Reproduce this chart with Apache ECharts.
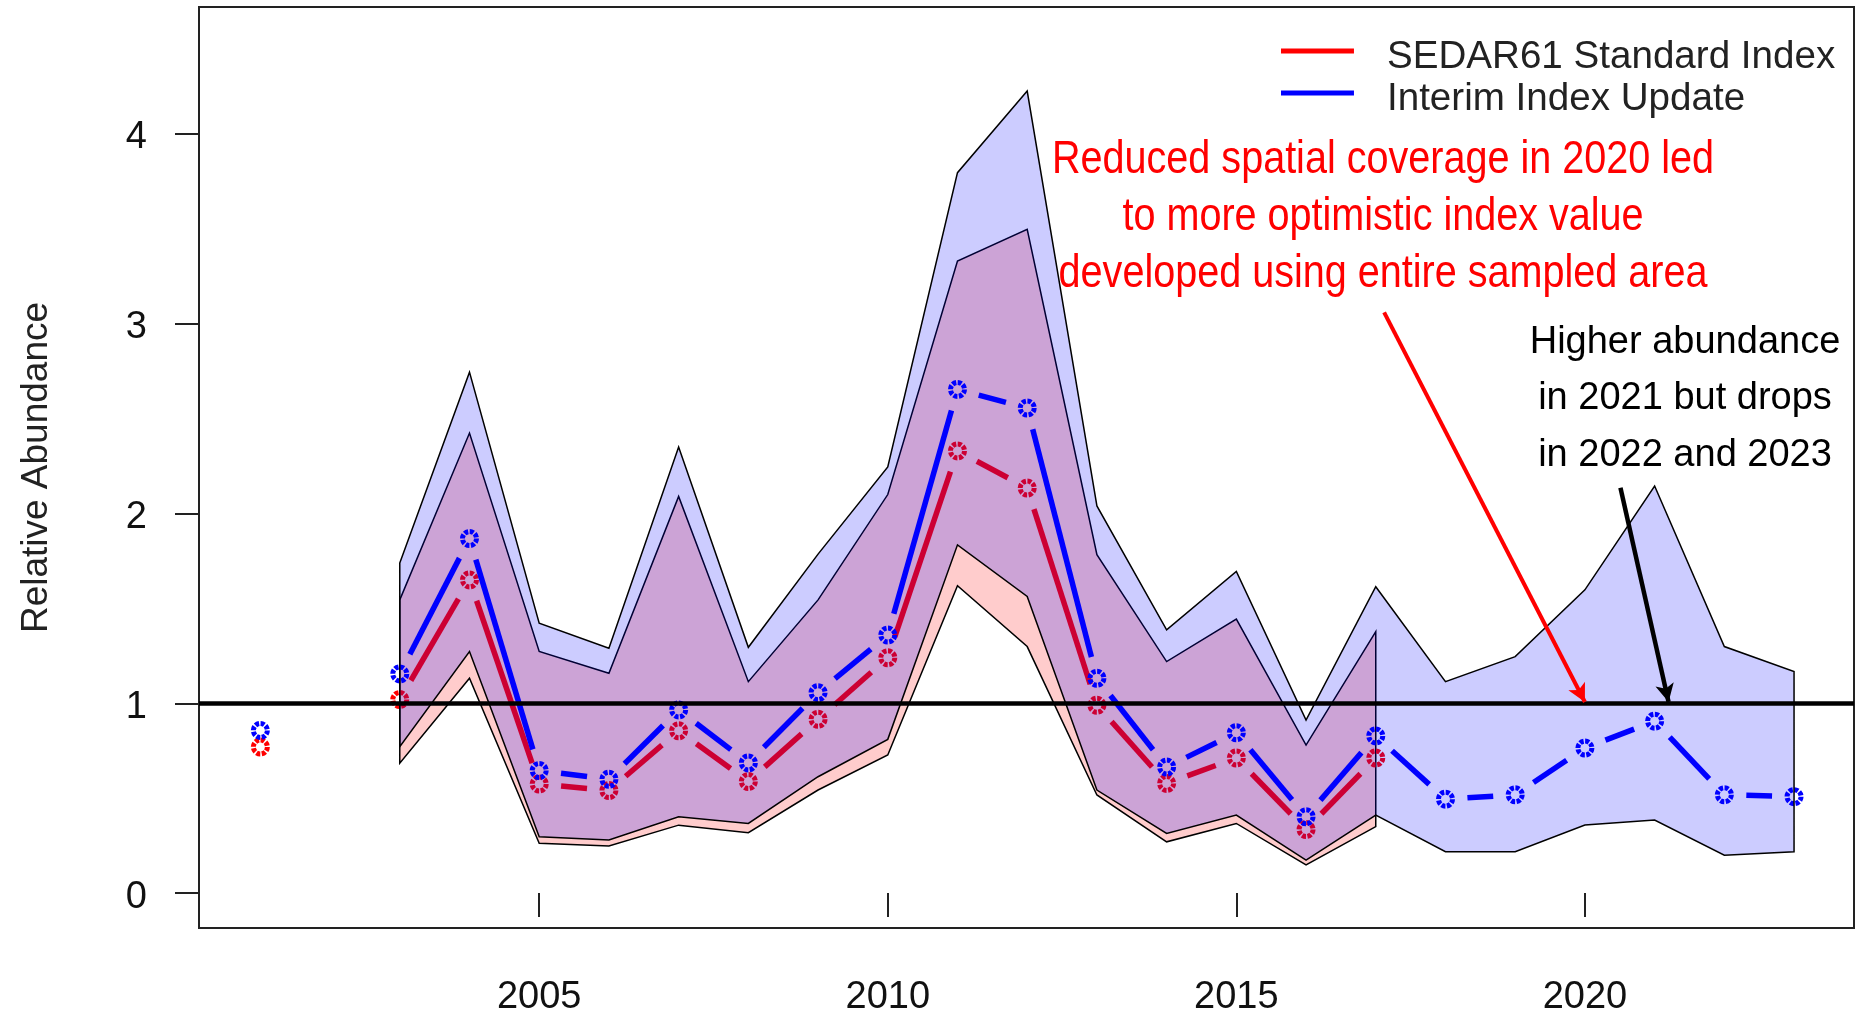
<!DOCTYPE html>
<html>
<head>
<meta charset="utf-8">
<script src="https://cdn.jsdelivr.net/npm/echarts@6/dist/echarts.min.js"></script>
<style>
html,body{margin:0;padding:0;background:#fff;}
#c{width:1866px;height:1013px;}
</style>
</head>
<body>
<div id="c"></div>
<script>
// ---- data ----
const years = [2001,2002,2003,2004,2005,2006,2007,2008,2009,2010,2011,2012,2013,2014,2015,2016,2017,2018,2019,2020,2021,2022,2023];
const sedarIndex   = [0.77,null,1.02,1.65,0.575,0.54,0.855,0.588,0.916,1.24,2.33,2.134,0.99,0.578,0.712,0.335,0.712,null,null,null,null,null,null];
const interimIndex = [0.857,null,1.155,1.868,0.646,0.60,0.965,0.686,1.056,1.36,2.654,2.556,1.132,0.664,0.845,0.402,0.828,0.495,0.518,0.764,0.906,0.518,0.508];

const interimCiYears = [2003,2004,2005,2006,2007,2008,2009,2010,2011,2012,2013,2014,2015,2016,2017,2018,2019,2020,2021,2022,2023];
const interimUpper = [1.739,2.745,1.422,1.29,2.35,1.295,1.786,2.245,3.796,4.226,2.04,1.387,1.695,0.912,1.614,1.114,1.246,1.598,2.145,1.299,1.167];
const interimLower = [0.771,1.273,0.297,0.28,0.402,0.367,0.613,0.81,1.835,1.563,0.543,0.314,0.411,0.174,0.411,0.218,0.218,0.359,0.385,0.20,0.218];

const sedarCiYears = [2003,2004,2005,2006,2007,2008,2009,2010,2011,2012,2013,2014,2015,2016,2017];
const sedarUpper = [1.545,2.424,1.273,1.158,2.09,1.114,1.545,2.10,3.33,3.497,1.783,1.22,1.444,0.78,1.378];
const sedarLower = [0.684,1.132,0.262,0.248,0.358,0.318,0.543,0.728,1.62,1.299,0.517,0.27,0.367,0.148,0.35];

const xTicks = [2005,2010,2015,2020];
const yTicks = [0,1,2,3,4];

const seriesNames = ['SEDAR61 Standard Index','Interim Index Update'];
const redNote = ['Reduced spatial coverage in 2020 led','to more optimistic index value','developed using entire sampled area'];
const blackNote = ['Higher abundance','in 2021 but drops','in 2022 and 2023'];
const redArrow = [[2017.12,3.06],[2020.0,1.007]];
const blackArrow = [[2020.51,2.136],[2021.2,1.007]];

// ---- helpers ----
function bandSeries(name, xs, up, lo, fill, z) {
  return {
    type: 'custom', name: name, z: z, silent: true, animation: false,
    data: xs.map((x, i) => [x, up[i], lo[i]]),
    encode: { x: 0, y: [1, 2] },
    renderItem: function (params, api) {
      if (params.dataIndex !== 0) return null;
      const pts = [];
      for (let i = 0; i < xs.length; i++) pts.push(api.coord([xs[i], up[i]]));
      for (let i = xs.length - 1; i >= 0; i--) pts.push(api.coord([xs[i], lo[i]]));
      return { type: 'polygon', shape: { points: pts }, style: { fill: fill, stroke: '#000', lineWidth: 1.5 } };
    }
  };
}

function indexSeries(name, vals, color, z) {
  const pts = years.map((y, i) => [y, vals[i]]).filter(p => p[1] != null);
  return {
    type: 'custom', name: name, z: z, silent: true, animation: false,
    data: pts,
    encode: { x: 0, y: 1 },
    renderItem: function (params, api) {
      const i = params.dataIndex;
      const p = pts[i];
      const c = api.coord(p);
      const children = [{
        type: 'circle', shape: { cx: c[0], cy: c[1], r: 7 },
        style: { fill: 'none', stroke: color, lineWidth: 5, lineDash: [4, 1.5] }
      }];
      const q = pts[i + 1];
      if (q && q[0] === p[0] + 1) {
        const d = api.coord(q);
        const dx = d[0] - c[0], dy = d[1] - c[1], L = Math.hypot(dx, dy);
        const g = 22;
        if (L > 2 * g) {
          children.push({
            type: 'line',
            shape: { x1: c[0] + dx * g / L, y1: c[1] + dy * g / L, x2: d[0] - dx * g / L, y2: d[1] - dy * g / L },
            style: { stroke: color, lineWidth: 5.5 }
          });
        }
      }
      return { type: 'group', children: children };
    }
  };
}

const FONT = '"Liberation Sans", Arial, sans-serif';
// legend icon: a 5px bar at the top of a taller (invisible) box, so the text sits a little lower
const LEGEND_ICON = 'path://M0 0H73V5H0Z M0 17H0.01V17.01H0Z';

const chart = echarts.init(document.getElementById('c'), null, { renderer: 'canvas' });
chart.setOption({
  animation: false,
  backgroundColor: '#fff',
  grid: { left: 199, right: 12, top: 7, bottom: 85, show: true, borderColor: '#222', borderWidth: 2,
    backgroundColor: 'transparent', containLabel: false, outerBoundsMode: 'none' },
  xAxis: {
    type: 'value', min: 2000.12, max: 2023.86,
    axisLine: { show: false },
    splitLine: { show: false },
    axisTick: { show: true, length: 24, lineStyle: { color: '#222', width: 2 }, customValues: xTicks },
    axisLabel: { show: true, margin: 51, fontSize: 38, fontFamily: FONT, color: '#111', customValues: xTicks,
      formatter: function (v) { return String(v); } }
  },
  yAxis: {
    type: 'value', min: -0.184, max: 4.669,
    name: 'Relative Abundance', nameLocation: 'middle', nameGap: 144,
    nameTextStyle: { fontSize: 37, fontFamily: FONT, color: '#222' },
    axisLine: { show: false },
    splitLine: { show: false },
    axisTick: { show: true, length: 24, lineStyle: { color: '#222', width: 2 }, customValues: yTicks },
    axisLabel: { show: true, margin: 52, fontSize: 38, fontFamily: FONT, color: '#111', customValues: yTicks,
      verticalAlign: 'top', lineHeight: 8,
      formatter: function (v) { return String(v); } }
  },
  legend: {
    orient: 'vertical', left: 1281, top: 36, padding: 0,
    itemWidth: 73, itemHeight: 17, itemGap: 0,
    selectedMode: false,
    data: [
      { name: seriesNames[0], icon: LEGEND_ICON, itemStyle: { color: '#ff0000', borderWidth: 0 } },
      { name: seriesNames[1], icon: LEGEND_ICON, itemStyle: { color: '#0000ff', borderWidth: 0 } }
    ],
    textStyle: { fontSize: 38.6, fontFamily: FONT, color: '#222', lineHeight: 42, padding: [0, 0, 0, 28] }
  },
  graphic: [
    {
      type: 'text', z: 100, x: 1383, y: 217.5, scaleX: 0.86,
      style: {
        text: redNote.join('\n'), x: 0, y: 0,
        textAlign: 'center', textVerticalAlign: 'middle', align: 'center', verticalAlign: 'middle',
        fill: '#ff0000', font: '46px "Liberation Sans", Arial, sans-serif', lineHeight: 57
      }
    },
    {
      type: 'text', z: 100, x: 1685, y: 399,
      style: {
        text: blackNote.join('\n'), x: 0, y: 0,
        textAlign: 'center', textVerticalAlign: 'middle', align: 'center', verticalAlign: 'middle',
        fill: '#000', font: '38px "Liberation Sans", Arial, sans-serif', lineHeight: 56.7
      }
    }
  ],
  series: [
    bandSeries('sedarBand', sedarCiYears, sedarUpper, sedarLower, 'rgba(255,0,0,0.2)', 1),
    indexSeries(seriesNames[0], sedarIndex, '#ff0000', 2),
    indexSeries(seriesNames[1], interimIndex, '#0000ff', 3),
    bandSeries('interimBand', interimCiYears, interimUpper, interimLower, 'rgba(0,0,255,0.2)', 4),
    {
      type: 'line', name: 'annotations', data: [], z: 10, silent: true, animation: false,
      markLine: {
        silent: true, animation: false, symbol: ['none', 'none'], label: { show: false },
        emphasis: { disabled: true },
        data: [
          { yAxis: 1, lineStyle: { color: '#000', width: 4.5, type: 'solid' } },
          [
            { coord: redArrow[0], symbol: 'none', lineStyle: { color: '#ff0000', width: 4, type: 'solid' } },
            { coord: redArrow[1], symbol: 'arrow', symbolSize: [14, 18] }
          ],
          [
            { coord: blackArrow[0], symbol: 'none', lineStyle: { color: '#000', width: 4.5, type: 'solid' } },
            { coord: blackArrow[1], symbol: 'arrow', symbolSize: [14, 18] }
          ]
        ]
      }
    }
  ]
});
</script>
</body>
</html>
